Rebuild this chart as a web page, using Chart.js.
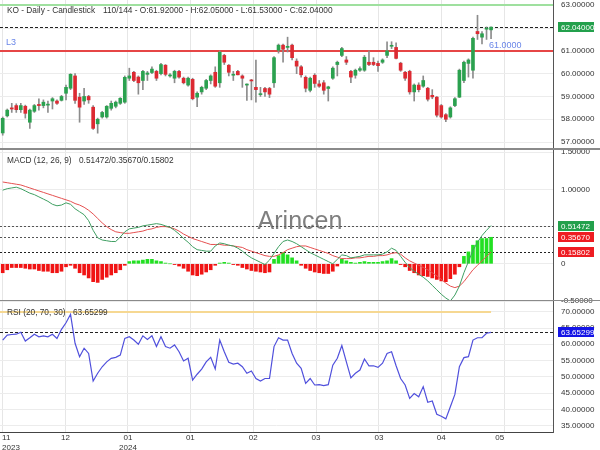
<!DOCTYPE html>
<html>
<head>
<meta charset="utf-8">
<script src="https://cdn.jsdelivr.net/npm/chart.js@4.4.1/dist/chart.umd.min.js"></script>
<style>
  html, body { margin: 0; padding: 0; background: #fff; }
  #wrap { position: relative; width: 600px; height: 450px; overflow: hidden; background: #fff; }
  canvas { position: absolute; left: 0; }
  .sep { position: absolute; left: 0; width: 600px; background: #8a8a8a; }
</style>
</head>
<body>
<div id="wrap">
  <canvas id="priceChart" width="600" height="148" style="top:0"></canvas>
  <canvas id="macdChart" width="600" height="155" style="top:150px"></canvas>
  <canvas id="rsiChart" width="600" height="149" style="top:301px"></canvas>
  <div class="sep" style="top:148px;height:2px"></div>
  <div class="sep" style="top:300px;height:1px"></div>
</div>
<script>
// KO daily candles
const opens = [
  57.40, 58.15, 58.50, 58.60, 58.42, 58.57, 57.87, 58.35, 58.65, 58.60,
  58.62, 58.80, 58.80, 58.83, 59.14, 59.36, 59.90, 58.97, 58.80, 59.00,
  58.53, 57.80, 58.10, 58.10, 58.48, 58.57, 58.70, 58.75, 59.80, 60.06,
  59.85, 59.70, 59.97, 60.05, 60.10, 60.00, 60.37, 59.90, 59.80, 60.10,
  59.80, 59.50, 59.75, 58.97, 59.20, 59.36, 59.70, 60.06, 59.60, 60.80,
  60.37, 59.93, 60.10, 59.90, 59.50, 59.72, 59.40, 59.08, 59.35, 59.35,
  59.60, 61.03, 61.25, 61.15, 61.25, 60.55, 60.30, 59.84, 59.27, 59.93,
  59.55, 59.60, 59.35, 59.80, 60.40, 60.80, 60.60, 60.10, 59.93, 60.15,
  60.15, 60.50, 60.50, 60.45, 60.50, 60.80, 61.20, 61.15, 60.46, 60.06,
  60.10, 59.20, 59.50, 59.45, 59.36, 59.05, 58.97, 58.60, 58.20, 58.10,
  58.60, 58.97, 59.70, 60.45, 60.15, 61.85, 61.60, 61.95, 61.92
];
const highs = [
  58.10, 58.45, 58.70, 58.68, 58.70, 58.62, 58.45, 58.65, 58.90, 58.85,
  58.80, 58.95, 58.85, 59.05, 59.50, 60.00, 60.00, 59.14, 59.36, 59.05,
  58.60, 58.05, 58.35, 58.60, 58.80, 58.80, 58.95, 59.90, 60.24, 60.10,
  59.90, 60.15, 60.10, 60.30, 60.15, 60.45, 60.40, 60.00, 60.15, 60.15,
  59.85, 59.85, 59.80, 59.20, 59.45, 59.75, 59.95, 60.30, 61.00, 60.85,
  60.40, 60.10, 60.15, 59.95, 59.55, 59.75, 60.60, 59.40, 59.40, 59.40,
  60.75, 61.30, 61.30, 61.60, 61.30, 60.65, 60.35, 59.90, 59.85, 60.00,
  59.70, 59.70, 59.45, 60.30, 60.55, 61.15, 60.75, 60.15, 60.20, 60.30,
  60.80, 61.00, 60.70, 60.55, 60.65, 61.40, 61.40, 61.35, 60.50, 60.10,
  60.15, 59.55, 59.60, 59.90, 59.40, 59.30, 59.00, 58.65, 58.25, 58.55,
  58.95, 60.20, 60.55, 60.65, 61.60, 62.56, 61.85, 62.05, 62.05
];
const lows = [
  57.30, 58.10, 58.30, 58.30, 58.30, 58.05, 57.60, 58.30, 58.40, 58.50,
  58.30, 58.45, 58.65, 58.80, 58.85, 59.30, 58.70, 57.87, 58.65, 58.70,
  57.55, 57.39, 58.05, 58.05, 58.40, 58.50, 58.65, 58.70, 59.70, 59.65,
  59.10, 59.30, 59.70, 60.00, 59.70, 59.95, 59.90, 59.85, 59.60, 59.80,
  59.55, 59.45, 58.85, 58.55, 59.10, 59.30, 59.55, 59.40, 59.40, 60.40,
  59.90, 59.70, 59.95, 59.40, 58.83, 58.85, 58.75, 59.00, 59.00, 58.95,
  59.40, 60.90, 60.50, 60.95, 60.60, 60.00, 59.85, 59.20, 59.20, 59.40,
  59.40, 59.10, 58.80, 59.75, 59.90, 60.75, 60.40, 59.60, 59.80, 60.10,
  60.10, 60.35, 60.35, 60.10, 60.45, 60.70, 61.10, 60.65, 60.10, 59.70,
  59.10, 58.80, 59.20, 59.40, 58.80, 58.90, 58.10, 58.05, 57.90, 58.05,
  58.55, 58.95, 59.60, 59.85, 59.80, 61.50, 61.30, 61.50, 61.53
];
const closes = [
  58.04, 58.40, 58.45, 58.42, 58.60, 58.26, 58.40, 58.60, 58.60, 58.75,
  58.65, 58.90, 58.70, 59.00, 59.40, 59.97, 58.83, 58.53, 59.00, 58.85,
  57.60, 58.00, 58.30, 58.57, 58.70, 58.75, 58.92, 59.84, 59.90, 59.70,
  59.60, 60.10, 60.03, 60.20, 59.80, 60.40, 59.97, 59.93, 60.10, 59.85,
  59.60, 59.80, 58.90, 59.14, 59.40, 59.70, 59.90, 59.45, 60.94, 60.50,
  60.06, 59.97, 59.95, 59.80, 59.52, 59.68, 59.30, 59.12, 59.20, 59.10,
  60.70, 61.25, 61.07, 61.20, 60.70, 60.33, 59.95, 59.36, 59.80, 59.57,
  59.45, 59.27, 59.42, 60.24, 60.50, 61.10, 60.50, 59.85, 60.15, 60.22,
  60.72, 60.40, 60.40, 60.35, 60.60, 61.00, 61.22, 60.67, 60.15, 59.80,
  59.20, 59.50, 59.30, 59.70, 58.88, 58.98, 58.18, 58.10, 58.00, 58.50,
  58.90, 60.15, 60.50, 60.60, 61.55, 61.75, 61.75, 62.00, 62.04
];

// MACD (12, 26, 9)
const macdLine = [
  0.99, 1.01, 1.02, 1.03, 1.01, 0.98, 0.95, 0.93, 0.90, 0.87,
  0.84, 0.80, 0.78, 0.79, 0.82, 0.80, 0.74, 0.70, 0.66, 0.58,
  0.45, 0.35, 0.32, 0.31, 0.30, 0.30, 0.36, 0.43, 0.47, 0.48,
  0.49, 0.51, 0.52, 0.53, 0.54, 0.53, 0.51, 0.49, 0.45, 0.40,
  0.34, 0.29, 0.23, 0.19, 0.18, 0.17, 0.17, 0.24, 0.28, 0.27,
  0.25, 0.24, 0.21, 0.17, 0.12, 0.08, 0.05, 0.02, -0.01, 0.05,
  0.14, 0.23, 0.30, 0.32, 0.30, 0.27, 0.23, 0.19, 0.15, 0.12,
  0.09, 0.06, 0.03, 0.00, 0.06, 0.12, 0.11, 0.08, 0.09, 0.10,
  0.12, 0.12, 0.12, 0.12, 0.13, 0.16, 0.21, 0.18, 0.10, 0.02,
  -0.05, -0.10, -0.14, -0.18, -0.23, -0.29, -0.35, -0.41, -0.46, -0.50,
  -0.42, -0.30, -0.12, 0.03, 0.18, 0.29, 0.38, 0.45, 0.51472
];
const signalLine = [
  1.10, 1.09, 1.08, 1.07, 1.06, 1.04, 1.02, 1.00, 0.98, 0.96,
  0.94, 0.92, 0.90, 0.88, 0.86, 0.84, 0.81, 0.79, 0.76, 0.72,
  0.67, 0.61, 0.55, 0.50, 0.46, 0.43, 0.42, 0.41, 0.41, 0.42,
  0.43, 0.44, 0.46, 0.47, 0.49, 0.50, 0.50, 0.49, 0.47, 0.44,
  0.40, 0.37, 0.34, 0.32, 0.30, 0.28, 0.26, 0.26, 0.26, 0.25,
  0.25, 0.24, 0.23, 0.22, 0.19, 0.17, 0.15, 0.13, 0.11, 0.10,
  0.10, 0.12, 0.15, 0.19, 0.21, 0.23, 0.24, 0.24, 0.22, 0.20,
  0.18, 0.16, 0.14, 0.11, 0.09, 0.07, 0.07, 0.07, 0.08, 0.08,
  0.09, 0.10, 0.10, 0.11, 0.11, 0.12, 0.14, 0.15, 0.13, 0.08,
  0.04, 0.01, -0.02, -0.05, -0.08, -0.12, -0.16, -0.21, -0.26, -0.30,
  -0.32, -0.30, -0.24, -0.16, -0.08, -0.02, 0.04, 0.10, 0.15802
];
const macdHist = [
  -0.12, -0.08, -0.05, -0.05, -0.05, -0.06, -0.07, -0.07, -0.09, -0.10,
  -0.10, -0.12, -0.12, -0.10, -0.04, -0.02, -0.06, -0.12, -0.15, -0.19,
  -0.24, -0.25, -0.21, -0.18, -0.15, -0.12, -0.08, -0.02, 0.03, 0.04,
  0.04, 0.05, 0.06, 0.06, 0.04, 0.03, 0.01, 0.00, -0.01, -0.03,
  -0.06, -0.10, -0.15, -0.16, -0.14, -0.11, -0.08, -0.02, 0.01, 0.02,
  0.01, -0.01, -0.02, -0.05, -0.07, -0.09, -0.10, -0.11, -0.12, -0.11,
  0.06, 0.11, 0.15, 0.12, 0.08, 0.04, -0.02, -0.06, -0.09, -0.11,
  -0.12, -0.13, -0.13, -0.10, -0.03, 0.06, 0.04, 0.02, 0.01, 0.02,
  0.03, 0.02, 0.02, 0.02, 0.03, 0.04, 0.07, 0.04, -0.01, -0.04,
  -0.09, -0.12, -0.15, -0.16, -0.17, -0.19, -0.21, -0.23, -0.24, -0.20,
  -0.14, -0.04, 0.10, 0.16, 0.25, 0.31, 0.34, 0.34, 0.35670
];

// RSI (20, 70, 30)
const rsiValues = [
  61.3, 62.8, 63.0, 63.1, 63.7, 61.0, 62.0, 63.1, 62.3, 62.6,
  62.3, 63.1, 61.8, 64.6, 66.6, 69.2, 60.3, 56.2, 58.8, 57.2,
  48.7, 51.1, 53.1, 54.6, 55.7, 56.0, 56.7, 61.8, 62.3, 61.3,
  60.0, 62.6, 61.5, 62.6, 59.3, 62.3, 59.3, 58.8, 59.8, 57.7,
  54.9, 55.7, 49.0, 50.8, 52.4, 54.6, 56.0, 52.4, 61.3, 57.7,
  54.5, 53.9, 54.2, 53.1, 51.1, 51.8, 49.5, 48.7, 49.5, 49.5,
  59.3, 62.0, 61.3, 61.3, 57.2, 54.2, 52.6, 48.0, 49.5, 47.5,
  47.6, 47.3, 47.6, 53.6, 55.7, 59.6, 54.6, 49.7, 51.1, 52.1,
  55.5, 53.4, 53.4, 52.9, 54.2, 57.2, 57.7, 53.4, 49.5, 47.5,
  43.4, 44.9, 43.9, 47.0, 42.2, 42.6, 38.5, 37.9, 37.1, 40.8,
  44.6, 53.1, 55.9, 56.2, 61.3, 62.0, 62.0, 63.4, 63.65299
];

// x axis (bar index) ticks
const xTickPos = [-0.15, 13.9, 27.7, 41.5, 55.4, 69.3, 83.2, 97.0, 110.9];
const xTickLabels = ['11', '12', '01', '01', '02', '03', '03', '04', '05'];
const xTickYears = ['2023', '', '2024', '', '', '', '', '', ''];

const BAR_COUNTER = '110/144';
const L3_LEVEL = 61.0;
const TOP_LEVEL = 63.0;
const RSI_UPPER = 70;

const X_MIN = -0.6, X_MAX = 121.7;
const FONT = '"Liberation Sans", Arial, sans-serif';
const last = arr => arr[arr.length - 1];

Chart.defaults.font.family = FONT;
Chart.defaults.font.size = 8;
Chart.defaults.color = '#333';

function xScale(showLabels) {
  return {
    type: 'linear', min: X_MIN, max: X_MAX, offset: false,
    grid: { color: '#e6e6e6', drawTicks: false, offset: false },
    border: { display: showLabels, color: '#444' },
    afterBuildTicks: s => { s.ticks = xTickPos.map(v => ({ value: v })); },
    afterFit: s => { s.paddingLeft = 0; s.paddingRight = 0; s.height = showLabels ? 18 : 0; },
    ticks: {
      display: showLabels, align: 'inner', padding: 1, maxRotation: 0, autoSkip: false,
      callback: (v, i) => xTickYears[i] ? [xTickLabels[i], xTickYears[i]] : xTickLabels[i]
    }
  };
}

function yScale(min, max, step, fmt) {
  return {
    position: 'right', min: min, max: max,
    grid: { color: '#ececec', drawTicks: false },
    border: { color: '#555' },
    ticks: { stepSize: step, includeBounds: false, autoSkip: false, padding: 8, callback: fmt },
    afterFit: s => { s.width = 47; s.paddingTop = 0; s.paddingBottom = 0; }
  };
}

// solid level line, drawn as a filled strip so it stays crisp
function levelLine(chart, value, color, thickness, toX) {
  const { ctx, chartArea: a, scales } = chart;
  const y = Math.round(scales.y.getPixelForValue(value));
  const x1 = toX != null ? scales.x.getPixelForValue(toX) : a.right;
  ctx.save();
  ctx.fillStyle = color;
  ctx.fillRect(a.left, y - Math.floor(thickness / 2), x1 - a.left, thickness);
  ctx.restore();
}

function dashLine(chart, value, color, dash) {
  const { ctx, chartArea: a, scales } = chart;
  const y = Math.round(scales.y.getPixelForValue(value)) + 0.5;
  ctx.save();
  ctx.strokeStyle = color; ctx.lineWidth = 1; ctx.setLineDash(dash);
  ctx.beginPath(); ctx.moveTo(a.left, y); ctx.lineTo(a.right, y); ctx.stroke();
  ctx.restore();
}

function valueBox(chart, value, text, bg) {
  const ctx = chart.ctx;
  const y = Math.round(chart.scales.y.getPixelForValue(value));
  ctx.save();
  ctx.fillStyle = bg;
  ctx.fillRect(558, y - 5, 36, 10);
  ctx.fillStyle = '#fff';
  ctx.font = '8px ' + FONT;
  ctx.textAlign = 'left'; ctx.textBaseline = 'middle';
  ctx.fillText(text, 561, y + 0.5);
  ctx.restore();
}

function label(ctx, text, x, y, color, size) {
  ctx.save();
  ctx.fillStyle = color;
  ctx.font = (size || 8.3) + 'px ' + FONT;
  ctx.textAlign = 'left'; ctx.textBaseline = 'middle';
  ctx.fillText(text, x, y);
  ctx.restore();
}

const baseOpts = {
  responsive: false, animation: false, devicePixelRatio: 1,
  plugins: { legend: { display: false }, tooltip: { enabled: false } },
  events: []
};

// price panel
const lastIdx = closes.length - 1;
new Chart(document.getElementById('priceChart'), {
  type: 'bar',
  data: {
    datasets: [
      {
        data: closes.map((c, i) => ({ x: i, y: [opens[i], c] })),
        backgroundColor: closes.map((c, i) => c >= opens[i] ? '#2ba14f' : '#dc2a32'),
        barThickness: 3, grouped: false, minBarLength: 1, borderWidth: 0
      },
      {
        data: highs.map((h, i) => ({ x: i, y: [lows[i], h] })),
        backgroundColor: '#8c8c8c',
        barThickness: 1, grouped: false, borderWidth: 0
      }
    ]
  },
  options: Object.assign({}, baseOpts, {
    layout: { padding: 0 },
    scales: {
      x: xScale(false),
      y: yScale(56.74, 63.23, 1, v => v.toFixed(5))
    }
  }),
  plugins: [{
    id: 'priceOverlay',
    beforeDatasetsDraw(chart) {
      levelLine(chart, TOP_LEVEL, '#9fe09f', 2);
      levelLine(chart, L3_LEVEL, '#e64646', 2);
      dashLine(chart, last(closes), '#222', [3, 2]);
    },
    afterDraw(chart) {
      const ctx = chart.ctx;
      label(ctx, 'KO - Daily - Candlestick', 7, 11, '#333');
      label(ctx, BAR_COUNTER + ' - O:' + opens[lastIdx].toFixed(5) + ' - H:' + highs[lastIdx].toFixed(5) +
        ' - L:' + lows[lastIdx].toFixed(5) + ' - C:' + closes[lastIdx].toFixed(5), 103, 11, '#333');
      const yL3 = chart.scales.y.getPixelForValue(L3_LEVEL);
      label(ctx, 'L3', 6, yL3 - 8, '#6a86e8', 9);
      label(ctx, L3_LEVEL.toFixed(4), chart.scales.x.getPixelForValue(lastIdx) - 2, yL3 - 5, '#6a86e8', 9);
      valueBox(chart, last(closes), last(closes).toFixed(5), '#23a04c');
    }
  }]
});

// MACD panel
const idx = macdLine.map((_, i) => i);
new Chart(document.getElementById('macdChart'), {
  type: 'bar',
  data: {
    datasets: [
      {
        type: 'line', data: idx.map(i => ({ x: i, y: macdLine[i] })),
        borderColor: '#3f9f62', borderWidth: 1, pointRadius: 0, tension: 0
      },
      {
        type: 'line', data: idx.map(i => ({ x: i, y: signalLine[i] })),
        borderColor: '#e55050', borderWidth: 1, pointRadius: 0, tension: 0
      },
      {
        data: idx.map(i => ({ x: i, y: macdHist[i] })),
        backgroundColor: macdHist.map(v => v >= 0 ? '#22e022' : '#f01414'),
        barThickness: 3, grouped: false, borderWidth: 0
      }
    ]
  },
  options: Object.assign({}, baseOpts, {
    layout: { padding: { top: 0, bottom: 4, left: 0, right: 0 } },
    scales: {
      x: xScale(false),
      y: yScale(-0.5, 1.53, 0.5, v => Math.abs(v) < 1e-9 ? '0' : v.toFixed(5))
    }
  }),
  plugins: [{
    id: 'macdOverlay',
    beforeDatasetsDraw(chart) {
      const ctx = chart.ctx;
      ctx.save();
      ctx.fillStyle = 'rgba(105,105,105,0.85)';
      ctx.font = '25px ' + FONT;
      ctx.textAlign = 'center'; ctx.textBaseline = 'middle';
      ctx.fillText('Arincen', 300, 72);
      ctx.restore();
      dashLine(chart, last(macdLine), '#555', [2, 2]);
      dashLine(chart, last(macdHist), '#555', [2, 2]);
      dashLine(chart, last(signalLine), '#222', [2, 2]);
    },
    afterDraw(chart) {
      label(chart.ctx, 'MACD (12, 26, 9)', 7, 11, '#333');
      label(chart.ctx, last(macdLine).toFixed(5) + '/' + last(macdHist).toFixed(5) + '/' + last(signalLine).toFixed(5), 79, 11, '#333');
      valueBox(chart, last(macdLine), last(macdLine).toFixed(5), '#23a04c');
      valueBox(chart, last(macdHist), last(macdHist).toFixed(5), '#ee1c22');
      valueBox(chart, last(signalLine), last(signalLine).toFixed(5), '#ee1c22');
    }
  }]
});

// RSI panel
new Chart(document.getElementById('rsiChart'), {
  type: 'line',
  data: {
    datasets: [{
      data: rsiValues.map((v, i) => ({ x: i, y: v })),
      borderColor: '#5050dc', borderWidth: 1.2, pointRadius: 0, tension: 0
    }]
  },
  options: Object.assign({}, baseOpts, {
    layout: { padding: 0 },
    scales: {
      x: xScale(true),
      y: yScale(33.07, 73.29, 5, v => v.toFixed(5))
    }
  }),
  plugins: [{
    id: 'rsiOverlay',
    beforeDatasetsDraw(chart) {
      levelLine(chart, RSI_UPPER, '#f6d892', 2, rsiValues.length - 1);
      dashLine(chart, last(rsiValues), '#222', [3, 2]);
    },
    afterDraw(chart) {
      label(chart.ctx, 'RSI (20, 70, 30)', 7, 11.5, '#333');
      label(chart.ctx, last(rsiValues).toFixed(5), 73, 11.5, '#333');
      valueBox(chart, last(rsiValues), last(rsiValues).toFixed(5), '#1414e6');
    }
  }]
});
</script>
</body>
</html>
